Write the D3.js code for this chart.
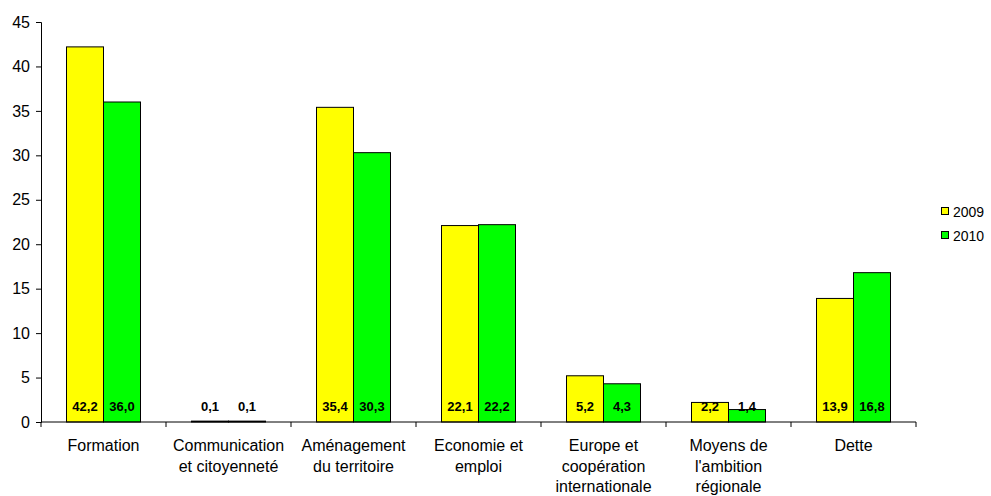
<!DOCTYPE html>
<html><head><meta charset="utf-8">
<script src="https://cdn.jsdelivr.net/npm/d3@7"></script>
<style>body{margin:0;background:#fff;}svg{display:block;font-family:"Liberation Sans",Arial,sans-serif;}</style>
</head><body>
<svg id="c" width="991" height="496"></svg>
<script>
const categories = [["Formation"],["Communication","et citoyenneté"],["Aménagement","du territoire"],["Economie et","emploi"],["Europe et","coopération","internationale"],["Moyens de","l'ambition","régionale"],["Dette"]];
const series = ["2009","2010"];
const values2009 = [42.2, 0.1, 35.4, 22.1, 5.2, 2.2, 13.9];
const values2010 = [36.0, 0.1, 30.3, 22.2, 4.3, 1.4, 16.8];
const yTicks = [0,5,10,15,20,25,30,35,40,45];
const colors = ["#ffff00","#00ff00"];

const svg = d3.select("#c");
const mLeft = 41, mRight = 916, mTop = 22, mBottom = 422;
const x = d3.scaleBand().domain(d3.range(categories.length)).range([mLeft,mRight]);
const y = d3.scaleLinear().domain([0,45]).range([mBottom,mTop]);
const barW = 37;
const xs = d3.scaleBand().domain(series).range([0,barW*2]);

const data = [values2009, values2010];
const g = svg.append("g");
series.forEach((s,si)=>{
  g.selectAll(".b"+si).data(data[si]).enter().append("rect")
    .attr("x",(d,i)=>x(i)+x.bandwidth()/2-barW+xs(s))
    .attr("y",d=>y(d))
    .attr("width",xs.bandwidth())
    .attr("height",d=>mBottom-y(d))
    .attr("fill",colors[si]).attr("stroke","#000").attr("stroke-width",1);
});
series.forEach((s,si)=>{
  g.selectAll(".l"+si).data(data[si]).enter().append("text")
    .attr("x",(d,i)=>x(i)+x.bandwidth()/2-barW+xs(s)+xs.bandwidth()/2)
    .attr("y",mBottom-11)
    .attr("text-anchor","middle").attr("font-size","13px").attr("font-weight","bold")
    .text(d=>d.toFixed(1).replace(".",","));
});

// y axis
const ya = svg.append("g").attr("transform",`translate(${mLeft},0)`)
  .call(d3.axisLeft(y).tickValues(yTicks).tickSize(5).tickPadding(6).tickFormat(d=>d));
ya.select(".domain").attr("stroke","#000");
ya.selectAll("line").attr("stroke","#000");
ya.selectAll("text").attr("font-size","16px").attr("fill","#000").attr("font-family","Liberation Sans, Arial, sans-serif");

// x axis
const xa = svg.append("g").attr("transform",`translate(0,${mBottom})`);
xa.append("line").attr("x1",mLeft).attr("x2",mRight).attr("stroke","#000");
const bounds = d3.range(categories.length+1).map(i=> i<categories.length ? x(i) : mRight);
xa.selectAll(".t").data(bounds).enter().append("line")
  .attr("x1",d=>d).attr("x2",d=>d).attr("y1",0).attr("y2",5).attr("stroke","#000");
const lab = xa.selectAll(".cl").data(categories).enter().append("text")
  .attr("text-anchor","middle").attr("font-size","16px")
  .attr("transform",(d,i)=>`translate(${x(i)+x.bandwidth()/2},0)`);
lab.selectAll("tspan").data(d=>d).enter().append("tspan")
  .attr("x",0).attr("y",(d,j)=>29+j*20.7).text(d=>d);

// legend
const lg = svg.append("g").attr("transform","translate(941,207)");
series.forEach((s,i)=>{
  lg.append("rect").attr("x",0.5).attr("y",i*24+0.5).attr("width",7).attr("height",7)
    .attr("fill",colors[i]).attr("stroke","#000");
  lg.append("text").attr("x",12).attr("y",i*24+9.5).attr("font-size","14px").text(s);
});
</script>
</body></html>
